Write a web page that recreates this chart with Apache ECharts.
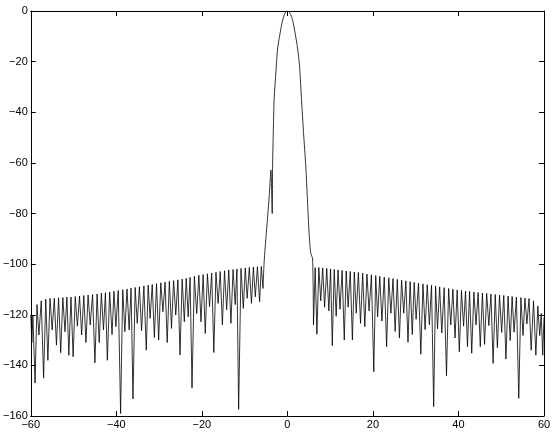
<!DOCTYPE html>
<html>
<head>
<meta charset="utf-8">
<script src="https://cdn.jsdelivr.net/npm/echarts/dist/echarts.min.js"></script>
<style>
html, body { margin: 0; padding: 0; background: #fff; }
#chart { width: 554px; height: 433px; }
</style>
</head>
<body>
<div id="chart"></div>
<script>
// left sidelobes: null positions / depths, and peak level of each lobe between two nulls
let leftEdge = [[-60, -120], [-59.75, -131], [-59.5, -120.5]];
let leftNullX = [-59.0, -58.1, -57.0, -56.0, -55.0, -54.0, -53.0, -52.0, -51.1, -50.1,
  -49.1, -48.1, -47.1, -46.1, -45.0, -44.0, -43.0, -42.1, -41.0, -40.1,
  -39.0, -38.0, -37.0, -36.1, -35.1, -34.1, -33.0, -32.1, -31.1, -30.1,
  -29.1, -28.1, -27.1, -26.1, -25.1, -24.1, -23.2, -22.3, -21.2, -20.2,
  -19.2, -18.2, -17.2, -16.2, -15.2, -14.2, -13.2, -12.2, -11.4, -10.3,
  -9.4, -8.4, -7.5, -6.5, -5.7];
let leftNullDb = [-147, -128, -145, -138, -126, -132, -135, -126.7, -136, -136.6,
  -124.5, -128, -131, -124, -139, -131, -126, -138, -127.8, -124.7,
  -159, -126.7, -126, -153.3, -123.4, -126.3, -134, -121.4, -129, -130,
  -118.8, -131, -125.4, -120.1, -135.9, -122.8, -120.8, -149, -119.5, -122.8,
  -127.4, -116.8, -134.9, -115.5, -124, -118, -123.4, -116, -157.4, -117.5,
  -113.5, -115.5, -112.9, -114.9, -109.6];
let leftPeakDb = [-116, -114.5, -113.8, -113.5, -113.5, -113.3, -113.2, -113, -113, -112.8,
  -112.6, -112.4, -112.2, -112, -111.8, -111.5, -111.3, -111, -110.7, -110.4,
  -110.1, -109.8, -109.5, -109.2, -108.9, -108.6, -108.3, -108, -107.7, -107.4,
  -107.1, -106.8, -106.5, -106.2, -105.9, -105.6, -105.2, -104.8, -104.4, -104.1,
  -103.8, -103.5, -103.2, -102.9, -102.6, -102.3, -102.1, -101.9, -101.7, -101.5,
  -101.3, -101.1, -101, -100.9];

// main lobe (runs from the last left null to the first right null)
let mainX = [-5.7, -5.41, -4.62, -4.24, -3.85, -3.55, -3.45, -3.3, -3.1, -2.6, -2.3, -1.7, -1.1, -0.5, 0,
  0.6, 1.2, 1.8, 2.4, 2.85, 3.3, 3.77, 4.31, 4.7, 5.08, 5.3, 5.47, 5.9, 6.1];
let mainDb = [-109.6, -98.4, -81.3, -73, -62.8, -80, -60, -48, -35, -22, -15, -8.7, -3.5, -0.7, 0,
  -0.8, -3.5, -8.7, -15, -22, -35, -48, -61.6, -75, -87.8, -93, -95.7, -98, -124];

// right sidelobes
let rightNullX = [6.1, 6.9, 7.8, 8.7, 9.7, 10.5, 11.4, 12.3, 13.3, 14.2,
  15.2, 16.1, 17.1, 18.1, 19.1, 20.2, 21.1, 22.1, 23.2, 24.2,
  25.2, 26.2, 27.2, 28.2, 29.2, 30.1, 31.2, 32.2, 33.2, 34.2,
  35.1, 36.1, 37.2, 38.2, 39.2, 40.2, 41.2, 42.1, 43.1, 44.1,
  45.1, 46.1, 47.1, 48.1, 49.1, 50.1, 51.1, 52.1, 53.0, 54.1,
  55.1, 56.0, 57.0, 58.1, 59.0, 59.7];
let rightNullDb = [-124, -127.7, -114.5, -117, -118.5, -132.2, -120.6, -117.8, -130, -117,
  -130, -119.4, -123.4, -124.7, -118.5, -142.5, -120.8, -122.5, -132.6, -119.4,
  -126.6, -129.2, -119.4, -130.9, -127.8, -121.8, -135.6, -125.9, -123.9, -156.3,
  -125.6, -127.2, -144.1, -124, -129.2, -134.6, -124.5, -132.6, -135.2, -124,
  -132.6, -131.7, -124.3, -139.2, -133, -127, -137.5, -130.2, -126.9, -153,
  -128.2, -123.6, -134, -136, -128.2, -136];
let rightPeakDb = [-101.4, -101.3, -101.5, -101.7, -101.9, -102.1, -102.3, -102.5, -102.7, -102.9,
  -103.1, -103.3, -103.6, -103.9, -104.2, -104.5, -104.8, -105.1, -105.4, -105.7,
  -106, -106.3, -106.6, -106.9, -107.2, -107.5, -107.8, -108.1, -108.4, -108.7,
  -109, -109.3, -109.6, -109.9, -110.2, -110.4, -110.6, -110.8, -111, -111.2,
  -111.4, -111.6, -111.8, -112, -112.2, -112.4, -112.6, -112.8, -113, -113.2,
  -113.4, -113.6, -114.5, -116.5, -119.5];
let rightEdge = [[60, -121]];

let xTicks = { min: -60, max: 60, step: 20 };
let yTicks = { min: -160, max: 0, step: 20 };

function lobes(nx, nd, pk) {
  let pts = [];
  for (let i = 0; i < nx.length; i++) {
    pts.push([nx[i], nd[i]]);
    if (i < pk.length) pts.push([(nx[i] + nx[i + 1]) / 2, pk[i]]);
  }
  return pts;
}

let leftData = leftEdge.concat(lobes(leftNullX, leftNullDb, leftPeakDb));
let mainData = mainX.map((x, i) => [x, mainDb[i]]);
let rightData = lobes(rightNullX, rightNullDb, rightPeakDb).concat(rightEdge);

let myChart = echarts.init(document.getElementById("chart"));
let minus = (v) => String(v).replace("-", "\u2212");
let font = "'Liberation Sans', Arial, sans-serif";

function xAxis(pos, labels) {
  return {
    type: "value",
    position: pos,
    min: xTicks.min,
    max: xTicks.max,
    interval: xTicks.step,
    axisLine: { show: true, onZero: false, lineStyle: { color: "#000", width: 1 } },
    axisTick: { show: true, inside: true, length: 5, lineStyle: { color: "#000" } },
    axisLabel: { show: labels, color: "#000", fontSize: 11, fontFamily: font, margin: 3, formatter: minus },
    splitLine: { show: false },
  };
}
function yAxis(pos, labels) {
  return {
    type: "value",
    position: pos,
    min: yTicks.min,
    max: yTicks.max,
    interval: yTicks.step,
    axisLine: { show: true, onZero: false, lineStyle: { color: "#000", width: 1 } },
    axisTick: { show: true, inside: true, length: 5, lineStyle: { color: "#000" } },
    axisLabel: { show: labels, color: "#000", fontSize: 11, fontFamily: font, margin: 3, formatter: minus },
    splitLine: { show: false },
  };
}

function curve(data, smooth) {
  return {
    type: "line",
    data: data,
    showSymbol: false,
    smooth: smooth,
    lineStyle: { color: "#000", width: 0.8 },
    clip: true,
  };
}

let option = {
  animation: false,
  backgroundColor: "#fff",
  grid: { left: 29, right: 10, top: 11, bottom: 17, containLabel: false },
  xAxis: [xAxis("bottom", true), xAxis("top", false)],
  yAxis: [yAxis("left", true), yAxis("right", false)],
  series: [curve(leftData, false), curve(mainData, 0.25), curve(rightData, false)],
};

myChart.setOption(option);
window.addEventListener("resize", function () {
  myChart.resize();
});
</script>
</body>
</html>
